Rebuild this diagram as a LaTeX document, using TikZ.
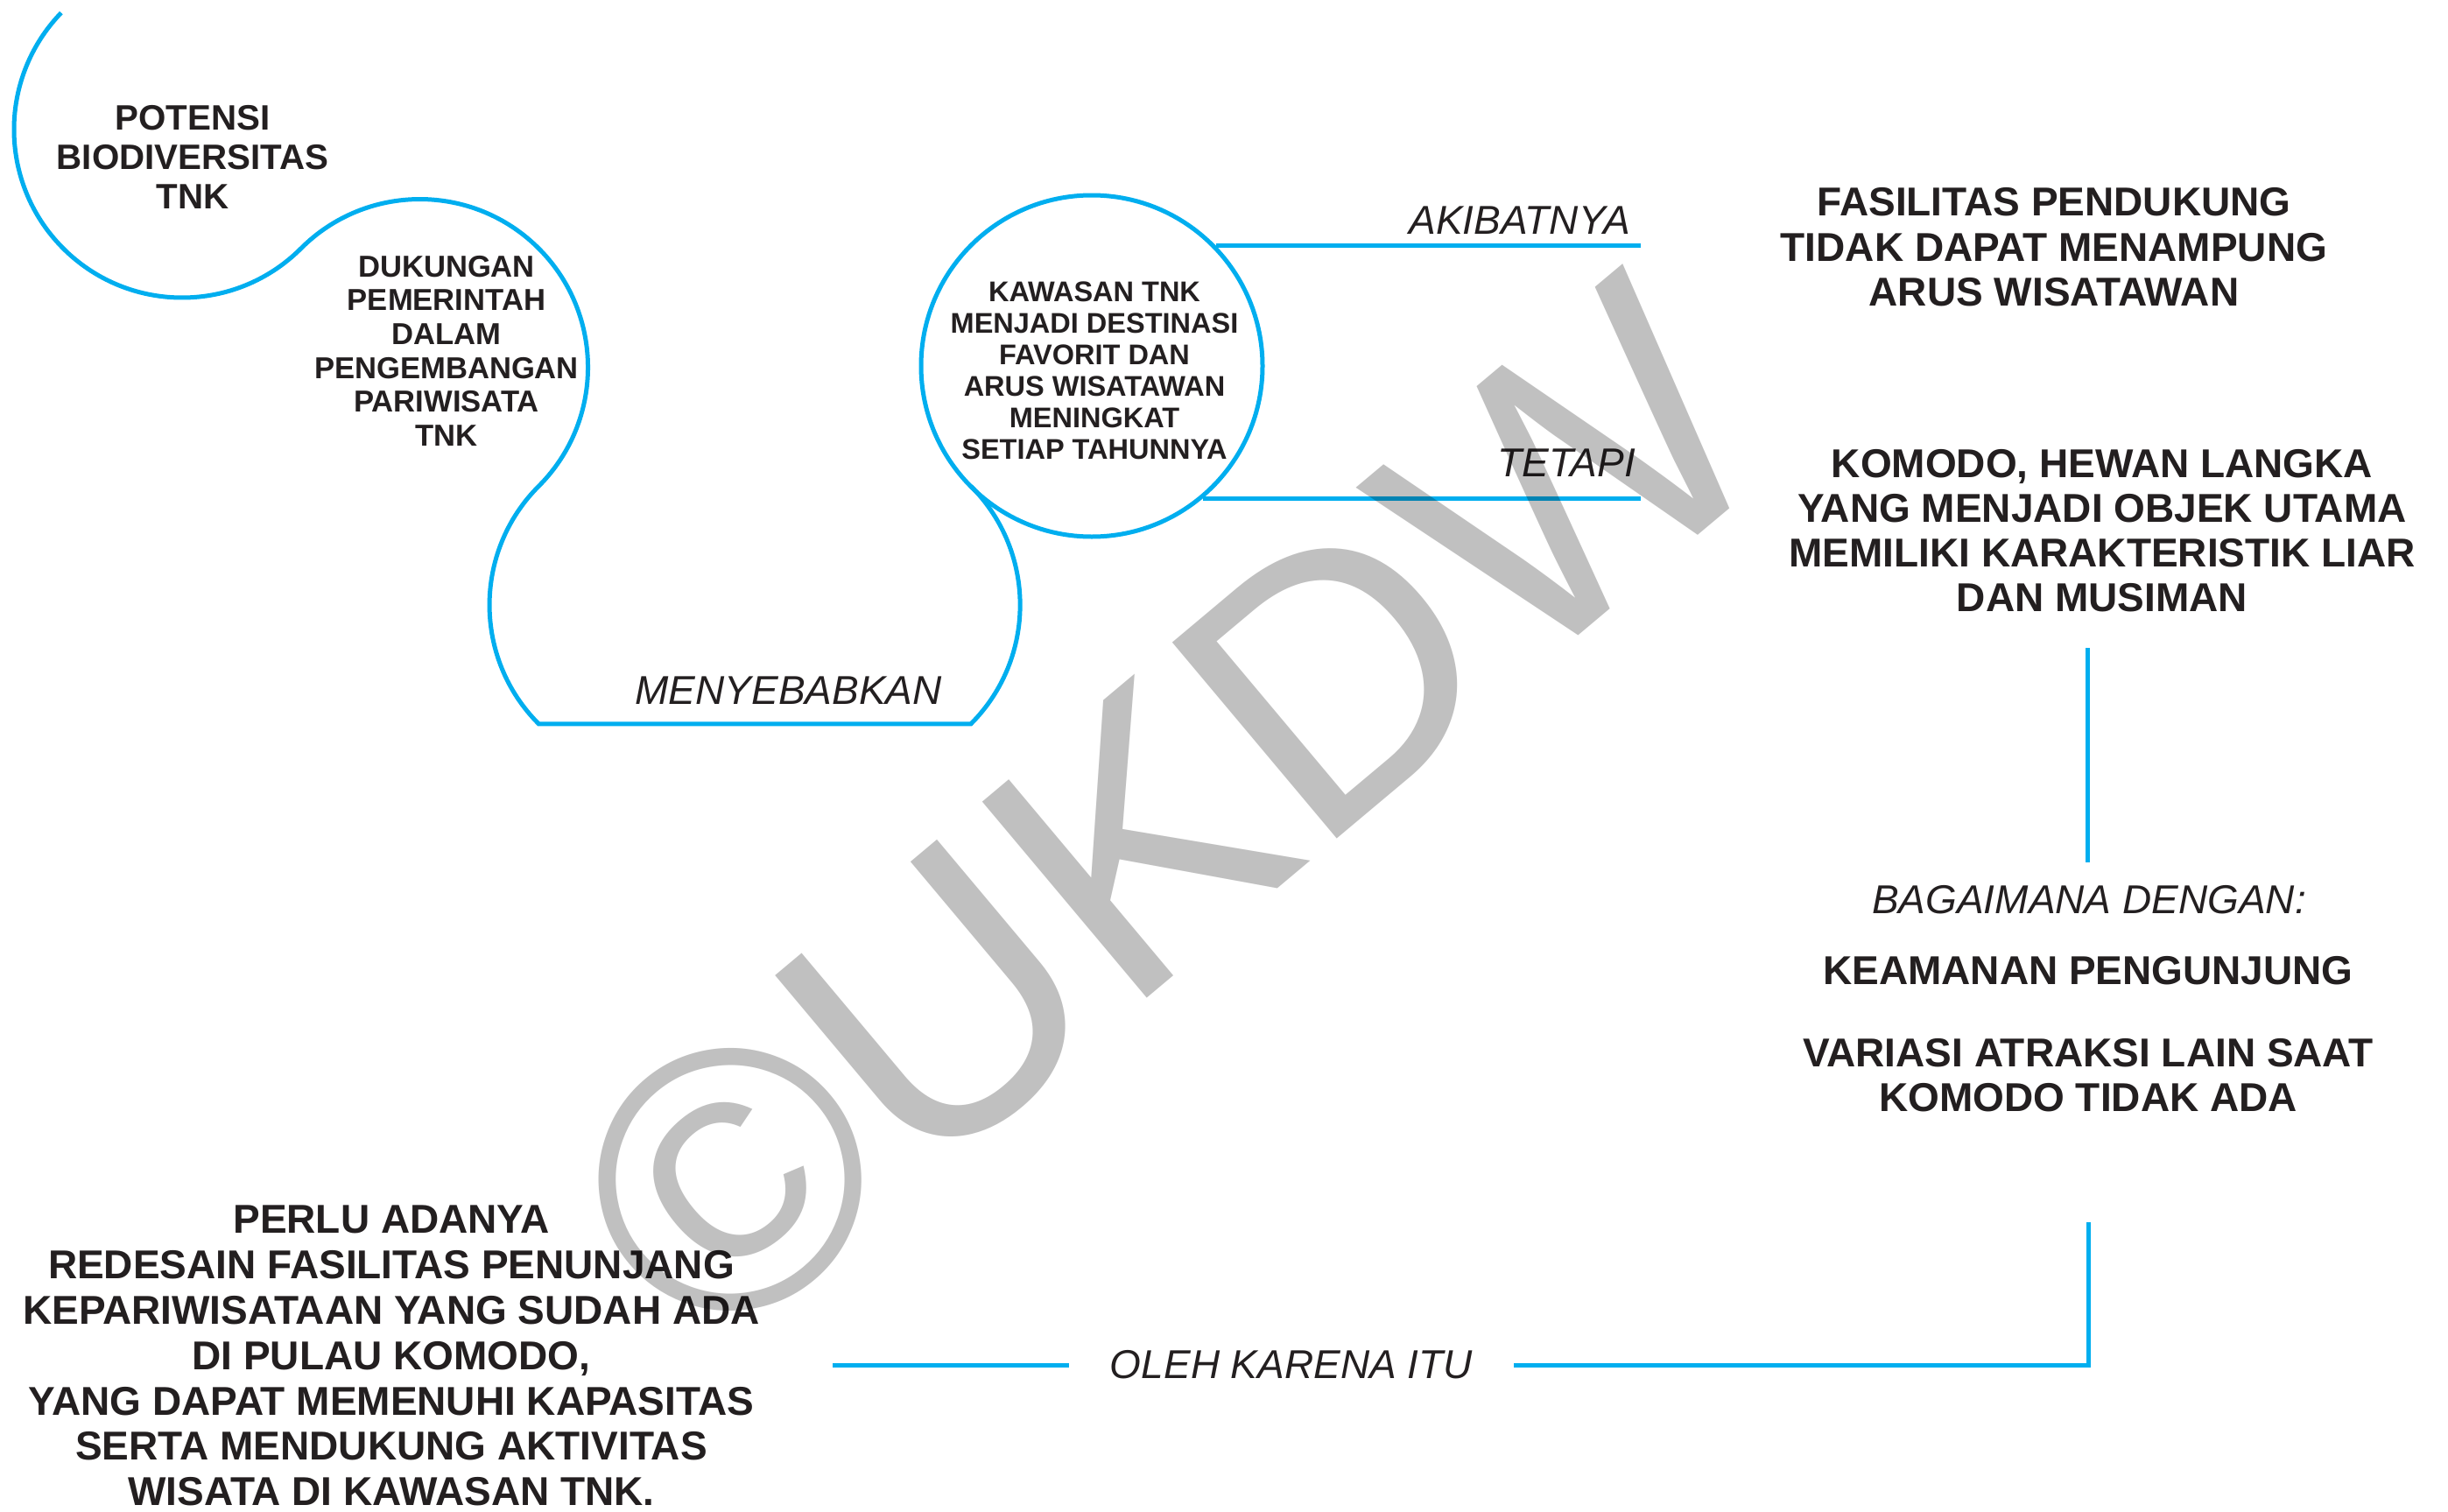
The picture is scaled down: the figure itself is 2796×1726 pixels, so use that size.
\documentclass[tikz,border=0pt]{standalone}
\usepackage{fontspec}
\setmainfont{Liberation Sans}
\definecolor{cyanline}{HTML}{00AEEF}
\definecolor{ink}{HTML}{231F20}
\definecolor{wmgray}{HTML}{C0C0C0}
\newcommand\fsz[2]{\fontsize{#1}{#2}\selectfont}
\tikzset{
  cy/.style={draw=cyanline, line width=5pt},
  txt/.style={text=ink, align=center, inner sep=0pt},
  bigtxt/.style={txt, font=\bfseries\fsz{46}{51.8}},
  lbl/.style={text=ink, inner sep=0pt, font=\itshape\fsz{46}{52}},
}
\begin{document}
\begin{tikzpicture}[x=1pt, y=1pt]
\useasboundingbox (0,0) rectangle (2796,-1726);
\fill[white] (0,0) rectangle (2796,-1726);

% S-shaped outline
\coordinate (c1) at (208,-148);
\draw[cy] (c1) ++(136:192) arc[start angle=136, end angle=315, radius=192]
  arc[start angle=135, end angle=-45, radius=192]
  arc[start angle=135, end angle=225, radius=192]
  -- ++(493.6,0) coordinate (lineR)
  arc[start angle=-45, end angle=45, radius=192] coordinate (sEnd);

% circle node
\node[circle, cy, minimum size=390pt, inner sep=0pt] (kawasan) at (1247,-418) {};
\node[txt, font=\bfseries\fsz{32.5}{36}, anchor=north] (kawtext) at (1250,-322)
  {KAWASAN TNK\\MENJADI DESTINASI\\FAVORIT DAN\\ARUS WISATAWAN\\MENINGKAT\\SETIAP TAHUNNYA};

\node[txt, font=\bfseries\fsz{40.3}{45}, anchor=north] (potensi) at (220,-120)
  {POTENSI\\BIODIVERSITAS\\TNK};
\node[txt, font=\bfseries\fsz{34.6}{38.6}, anchor=north] (dukungan) at (510,-292)
  {DUKUNGAN\\PEMERINTAH\\DALAM\\PENGEMBANGAN\\PARIWISATA\\TNK};

% lines from circle
\coordinate (akiE) at (1874,-282);
\coordinate (tetE) at (1874,-568);
\draw[cy] (kawasan.44) -- (kawasan.44 -| akiE);
\draw[cy] (kawasan.-50) -- (kawasan.-50 -| tetE);

\node[lbl, anchor=base east] (akibat) at (1862,-267) {AKIBATNYA};
\node[lbl, anchor=base east] (tetapi) at (1868,-544) {TETAPI};
\node[lbl, anchor=base east] (menyebab) at (1076,-804) {MENYEBABKAN};

% right column
\node[bigtxt, anchor=north] (fasilitas) at (2346,-214)
  {FASILITAS PENDUKUNG\\TIDAK DAPAT MENAMPUNG\\ARUS WISATAWAN};
\node[txt, font=\bfseries\fsz{46}{51}, anchor=north] (komodo) at (2401,-513)
  {KOMODO, HEWAN LANGKA\\YANG MENJADI OBJEK UTAMA\\MEMILIKI KARAKTERISTIK LIAR\\DAN MUSIMAN};
\coordinate (vtop) at (2384,-740);
\coordinate (vbot) at (2384,-985);
\draw[cy] (vtop) -- (vbot);
\node[lbl, anchor=base] (bagaimana) at (2386,-1043) {BAGAIMANA DENGAN:};
\node[bigtxt, anchor=north] (keamanan) at (2385,-1092) {KEAMANAN PENGUNJUNG};
\node[txt, font=\bfseries\fsz{46}{51}, anchor=north] (variasi) at (2385,-1186)
  {VARIASI ATRAKSI LAIN SAAT\\KOMODO TIDAK ADA};

% bottom connector
\coordinate (v2top) at (2385,-1396);
\node[lbl, inner xsep=47pt] (oleh) at (1475,-1559) {OLEH KARENA ITU};
\coordinate (lend) at (951,-1559);
\draw[cy] (v2top) |- (oleh.east);
\draw[cy] (oleh.west) -- (lend);

\node[bigtxt, anchor=north] (perlu) at (447,-1377)
  {PERLU ADANYA\\REDESAIN FASILITAS PENUNJANG\\KEPARIWISATAAN YANG SUDAH ADA\\DI PULAU KOMODO,\\YANG DAPAT MEMENUHI KAPASITAS\\SERTA MENDUKUNG AKTIVITAS\\WISATA DI KAWASAN TNK.};

% watermark
\begin{scope}[blend mode=multiply]
\node[rotate=40, anchor=base west, inner sep=0pt, text=wmgray, font=\fsz{425}{425}] (ukdw) at (808,-1561) {©UKDW};
\end{scope}
\end{tikzpicture}
\end{document}
